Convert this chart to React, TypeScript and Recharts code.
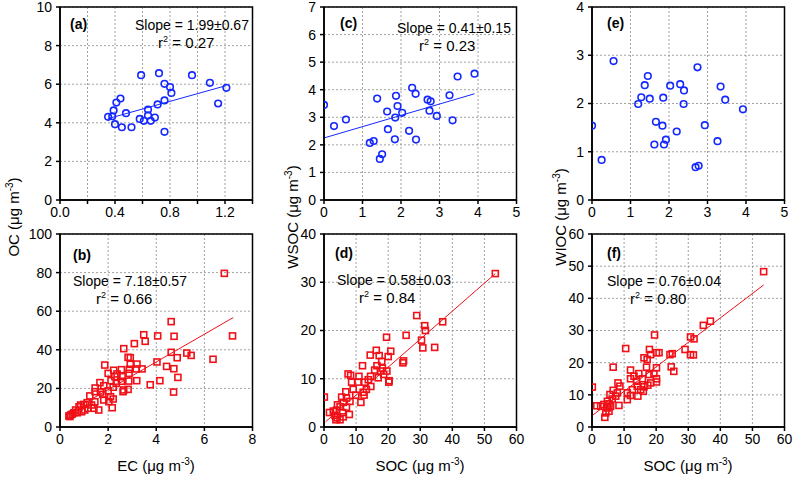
import React from 'react';
import { ScatterChart, Scatter, XAxis, YAxis, CartesianGrid, ReferenceLine, ReferenceArea } from 'recharts';

const FONT = '"Liberation Sans", Arial, Helvetica, sans-serif';
const BLUE = '#1428ff';
const RED = '#f01018';

// (a) OC vs EC
const ecA = [0.35, 0.38, 0.39, 0.40, 0.41, 0.44, 0.45, 0.48, 0.52, 0.59, 0.58, 0.61, 0.64, 0.64, 0.66, 0.69, 0.71, 0.72, 0.76, 0.76, 0.76, 0.80, 0.81, 0.96, 1.09, 1.15, 1.21];
const ocA = [4.31, 4.34, 4.64, 3.93, 5.05, 5.26, 3.77, 4.50, 3.77, 6.47, 4.20, 4.10, 4.38, 4.69, 4.10, 4.27, 4.95, 6.57, 3.53, 5.16, 6.02, 5.85, 5.55, 6.47, 6.07, 5.00, 5.81];

// (c) WSOC vs SOC
const socC = [0, 0.26, 0.57, 1.19, 1.29, 1.38, 1.45, 1.51, 1.64, 1.66, 1.84, 1.85, 1.87, 1.91, 2.03, 2.21, 2.29, 2.38, 2.39, 2.69, 2.77, 2.74, 2.93, 3.26, 3.34, 3.47, 3.91];
const wsocC = [3.45, 2.68, 2.92, 2.07, 2.14, 3.68, 1.49, 1.66, 3.21, 2.57, 2.20, 2.99, 3.78, 3.41, 3.16, 2.51, 4.07, 3.85, 2.19, 3.64, 3.58, 3.24, 3.05, 3.80, 2.89, 4.48, 4.58];

// (e) WIOC vs SOC
const socE = [0, 0.25, 0.56, 1.20, 1.28, 1.37, 1.45, 1.50, 1.66, 1.62, 1.83, 1.85, 1.87, 1.92, 2.03, 2.20, 2.29, 2.39, 2.38, 2.74, 2.69, 2.77, 2.93, 3.26, 3.34, 3.46, 3.92];
const wiocE = [1.54, 0.83, 2.88, 1.99, 2.13, 2.38, 2.57, 2.10, 1.62, 1.15, 1.54, 2.12, 1.15, 1.25, 2.37, 1.42, 2.40, 2.27, 1.99, 2.75, 0.68, 0.71, 1.55, 1.22, 2.35, 2.08, 1.88];

// (b) OC vs EC
const ecB = [6.83, 7.17, 6.36, 5.27, 5.45, 4.62, 4.74, 4.06, 3.48, 3.54, 3.09, 2.65, 4.62, 4.87, 4.03, 4.43, 4.73, 4.90, 4.15, 3.75, 4.72, 2.83, 2.92, 2.92, 3.20, 3.41, 3.17, 1.86, 2.55, 2.88, 2.23, 2.00, 2.37, 2.87, 2.28, 2.58, 2.55, 2.86, 3.19, 2.12, 1.66, 2.34, 1.82, 2.21, 1.46, 2.65, 2.83, 2.62, 2.00, 1.68, 1.46, 1.78, 1.24, 2.10, 2.21, 1.82, 2.03, 2.17, 1.45, 1.13, 0.99, 1.31, 0.86, 1.61, 1.41, 1.17, 1.03, 0.79, 0.90, 0.65, 0.58, 0.44, 0.37, 0.51, 0.41, 0.72];
const ocB = [79.6, 47.2, 35.1, 38.3, 37.1, 54.6, 47.0, 47.2, 47.8, 44.4, 43.2, 40.6, 38.7, 35.9, 33.7, 31.4, 30.2, 25.7, 24.0, 21.9, 18.1, 36.1, 35.9, 32.5, 32.6, 30.1, 30.1, 32.1, 29.7, 29.9, 29.4, 27.8, 27.5, 27.8, 26.1, 26.1, 23.7, 23.8, 24.0, 24.0, 23.0, 22.6, 21.4, 20.6, 20.2, 19.2, 19.5, 18.3, 18.7, 18.1, 18.3, 16.9, 16.1, 15.7, 14.5, 14.0, 13.1, 10.0, 13.1, 12.6, 11.7, 11.4, 11.4, 8.8, 9.7, 9.7, 8.8, 10.5, 7.9, 8.8, 7.4, 6.2, 5.7, 6.7, 5.4, 7.4];

// (d) WSOC vs SOC
const socD = [53.4, 37.0, 28.9, 31.4, 31.6, 30.4, 30.8, 34.5, 25.6, 19.5, 24.6, 24.8, 20.8, 20.0, 16.3, 14.4, 17.2, 18.0, 16.5, 12.0, 19.6, 20.3, 20.2, 18.2, 17.6, 15.8, 18.6, 16.9, 14.5, 13.8, 14.6, 12.7, 13.2, 10.9, 10.6, 12.2, 12.5, 11.5, 7.5, 8.3, 8.6, 9.1, 9.9, 6.8, 5.5, 7.0, 8.1, 6.0, 4.2, 5.0, 7.0, 7.9, 5.8, 3.9, 2.9, 1.7, 3.4, 4.1, 5.0, 3.7, 6.0, 0.1];
const wsocD = [31.8, 21.8, 23.1, 21.0, 20.0, 18.0, 16.4, 16.5, 19.0, 18.6, 13.3, 13.7, 15.7, 14.6, 15.9, 14.9, 14.8, 13.6, 12.7, 12.7, 11.6, 9.6, 9.3, 12.2, 11.6, 11.8, 10.9, 10.2, 10.5, 9.8, 8.4, 9.3, 7.8, 10.5, 9.3, 7.2, 6.6, 5.1, 11.0, 10.7, 9.3, 7.8, 6.6, 7.3, 6.2, 6.0, 5.3, 5.1, 4.6, 4.2, 4.1, 2.6, 3.0, 3.5, 3.3, 3.0, 2.4, 1.9, 1.5, 1.5, 2.1, 6.2];

// (f) WIOC vs SOC
const socF = [53.5, 36.9, 34.7, 30.7, 31.8, 29.0, 30.7, 31.6, 24.3, 25.0, 24.7, 25.5, 19.5, 17.9, 18.3, 20.1, 20.9, 16.2, 17.2, 10.5, 6.6, 20.1, 12.0, 14.6, 17.0, 13.1, 17.8, 19.3, 20.1, 20.1, 15.7, 13.9, 12.0, 18.3, 17.4, 16.2, 14.1, 15.2, 16.0, 12.6, 11.0, 12.0, 14.3, 11.0, 8.1, 8.7, 6.6, 7.9, 7.4, 5.6, 6.3, 4.8, 5.3, 3.7, 1.5, 8.4, 5.8, 4.8, 5.3, 4.3, 4.0, 0.1, 2.7];
const wiocF = [48.3, 32.9, 31.6, 28.0, 27.4, 24.1, 22.5, 22.4, 22.5, 22.8, 18.7, 17.3, 28.6, 24.1, 22.5, 23.1, 23.1, 21.5, 21.0, 24.4, 18.6, 18.4, 17.7, 16.6, 18.6, 15.8, 16.3, 16.6, 15.0, 14.0, 15.0, 14.2, 15.0, 13.7, 13.0, 12.5, 12.7, 11.6, 11.1, 11.6, 10.6, 9.8, 9.6, 8.5, 13.7, 12.7, 11.4, 10.6, 9.6, 10.1, 8.7, 8.0, 7.2, 7.0, 6.6, 6.7, 6.4, 5.9, 4.9, 4.4, 3.0, 12.4, 6.4];

// regression fits: [slope, intercept, xStart, xEnd]
const fitA = [1.99, 3.52, 0.35, 1.21];
const fitB = [7.18, 5.0, 0.4, 7.2];
const fitC = [0.41, 2.25, 0, 3.91];
const fitD = [0.58, 0.8, 0.5, 53.4];
const fitF = [0.76, 3.5, 0, 53.5];

// tick arrays
const xTicksA = [0, 0.2, 0.4, 0.6, 0.8, 1.0, 1.2, 1.4];
const xLabelsA = ['0.0', '', '0.4', '', '0.8', '', '1.2', ''];
const yTicksA = [0, 2, 4, 6, 8, 10];
const xTicksB = [0, 2, 4, 6, 8];
const yTicksB = [0, 20, 40, 60, 80, 100];
const xTicksC = [0, 1, 2, 3, 4, 5];
const yTicksC = [0, 1, 2, 3, 4, 5, 6, 7];
const xTicksD = [0, 10, 20, 30, 40, 50, 60];
const yTicksD = [0, 10, 20, 30, 40];
const yTicksE = [0, 1, 2, 3, 4];
const yTicksF = [0, 10, 20, 30, 40, 50, 60];

type PanelProps = {
  left: number; top: number; w: number; h: number;
  xs: number[]; ys: number[];
  xTicks: number[]; yTicks: number[];
  xLabels?: string[];
  marker: 'circle' | 'square';
  color: string;
  fit?: number[];
};

function Panel({ left, top, w, h, xs, ys, xTicks, yTicks, xLabels, marker, color, fit }: PanelProps) {
  const data = xs.map((x, i) => ({ x, y: ys[i] }));
  const ML = 50, MT = 10, MR = 10, MB = 30;
  const x0 = xTicks[0], x1 = xTicks[xTicks.length - 1];
  const y0 = yTicks[0], y1 = yTicks[yTicks.length - 1];
  const shape = (p: any) =>
    marker === 'circle' ? (
      <circle cx={p.cx} cy={p.cy} r={3.3} fill="none" stroke={color} strokeWidth={1.6} />
    ) : (
      <rect x={p.cx - 3} y={p.cy - 3} width={6} height={6} fill="none" stroke={color} strokeWidth={1.6} />
    );
  const tickStyle = { fill: '#000', fontSize: 14, fontFamily: FONT };
  const fmtX = (v: number) => {
    if (!xLabels) return String(v);
    const i = xTicks.findIndex((t) => Math.abs(t - v) < 1e-9);
    return i >= 0 ? xLabels[i] : '';
  };
  return (
    <div style={{ position: 'absolute', left: left - ML, top: top - MT }}>
      <ScatterChart width={w + ML + MR} height={h + MT + MB} margin={{ top: MT, right: MR, left: 0, bottom: 0 }}>
        <CartesianGrid stroke="#8a8a8a" strokeDasharray="2 2" strokeWidth={0.8} />
        <XAxis
          type="number" dataKey="x" domain={[x0, x1]} ticks={xTicks} interval={0}
          tickFormatter={fmtX} allowDataOverflow height={MB} tickSize={4} tickMargin={3}
          stroke="#000" strokeWidth={1.5} tick={tickStyle}
        />
        <YAxis
          type="number" dataKey="y" domain={[y0, y1]} ticks={yTicks} interval={0}
          allowDataOverflow width={ML} tickSize={4} tickMargin={4}
          stroke="#000" strokeWidth={1.5} tick={tickStyle}
        />
        <ReferenceArea x1={x0} x2={x1} y1={y0} y2={y1} fill="none" fillOpacity={0} stroke="#000" strokeWidth={1.5} ifOverflow="visible" />
        {fit && (
          <ReferenceLine
            segment={[
              { x: fit[2], y: fit[0] * fit[2] + fit[1] },
              { x: fit[3], y: fit[0] * fit[3] + fit[1] },
            ]}
            stroke={color}
            strokeWidth={1}
          />
        )}
        <Scatter data={data} shape={shape} isAnimationActive={false} />
      </ScatterChart>
    </div>
  );
}

function R2({ x, y, v }: { x: number; y: number; v: string }) {
  return (
    <text x={x} y={y} fontSize={15} fontFamily={FONT}>
      r<tspan fontSize={9} dy={-6}>2</tspan><tspan dy={6}> = {v}</tspan>
    </text>
  );
}

function Unit({ label, x, y, rotate }: { label: string; x: number; y: number; rotate?: boolean }) {
  return (
    <text x={x} y={y} fontSize={15} fontFamily={FONT} textAnchor="middle" transform={rotate ? `rotate(-90 ${x} ${y})` : undefined}>
      {label} (μg m<tspan fontSize={10} dy={-6}>-3</tspan><tspan dy={6}>)</tspan>
    </text>
  );
}

export default function App() {
  const W = 192.5, H = 193;
  return (
    <div style={{ position: 'absolute', left: 0, top: 0, width: 793, height: 482, background: '#fff', fontFamily: FONT }}>
      <Panel left={59.5} top={7} w={W} h={H} xs={ecA} ys={ocA} xTicks={xTicksA} xLabels={xLabelsA} yTicks={yTicksA} marker="circle" color={BLUE} fit={fitA} />
      <Panel left={59.5} top={234} w={W} h={H} xs={ecB} ys={ocB} xTicks={xTicksB} yTicks={yTicksB} marker="square" color={RED} fit={fitB} />
      <Panel left={324} top={7} w={W} h={H} xs={socC} ys={wsocC} xTicks={xTicksC} yTicks={yTicksC} marker="circle" color={BLUE} fit={fitC} />
      <Panel left={324} top={234} w={W} h={H} xs={socD} ys={wsocD} xTicks={xTicksD} yTicks={yTicksD} marker="square" color={RED} fit={fitD} />
      <Panel left={591.5} top={7} w={W} h={H} xs={socE} ys={wiocE} xTicks={xTicksC} yTicks={yTicksE} marker="circle" color={BLUE} />
      <Panel left={591.5} top={234} w={W} h={H} xs={socF} ys={wiocF} xTicks={xTicksD} yTicks={yTicksF} marker="square" color={RED} fit={fitF} />
      <svg width={793} height={482} style={{ position: 'absolute', left: 0, top: 0, pointerEvents: 'none' }}>
        <g fill="#000">
          <text x={70} y={29} fontSize={14} fontWeight="bold" fontFamily={FONT}>(a)</text>
          <text x={135} y={29.5} fontSize={14} fontFamily={FONT}>Slope = 1.99±0.67</text>
          <R2 x={158} y={48} v="0.27" />

          <text x={73} y={260} fontSize={14} fontWeight="bold" fontFamily={FONT}>(b)</text>
          <text x={73} y={286} fontSize={14} fontFamily={FONT}>Slope = 7.18±0.57</text>
          <R2 x={96} y={304} v="0.66" />

          <text x={340} y={28} fontSize={14} fontWeight="bold" fontFamily={FONT}>(c)</text>
          <text x={397} y={33} fontSize={14} fontFamily={FONT}>Slope = 0.41±0.15</text>
          <R2 x={419} y={51} v="0.23" />

          <text x={335} y={258} fontSize={14} fontWeight="bold" fontFamily={FONT}>(d)</text>
          <text x={337} y={285} fontSize={14} fontFamily={FONT}>Slope = 0.58±0.03</text>
          <R2 x={359} y={303} v="0.84" />

          <text x={607} y={28} fontSize={14} fontWeight="bold" fontFamily={FONT}>(e)</text>

          <text x={607} y={258} fontSize={14} fontWeight="bold" fontFamily={FONT}>(f)</text>
          <text x={607} y={286} fontSize={14} fontFamily={FONT}>Slope = 0.76±0.04</text>
          <R2 x={630} y={304} v="0.80" />

          <Unit label="OC" x={19} y={217} rotate />
          <Unit label="WSOC" x={298} y={217} rotate />
          <Unit label="WIOC" x={566} y={217} rotate />
          <Unit label="EC" x={156} y={471} />
          <Unit label="SOC" x={420} y={471} />
          <Unit label="SOC" x={688} y={471} />
        </g>
      </svg>
    </div>
  );
}
